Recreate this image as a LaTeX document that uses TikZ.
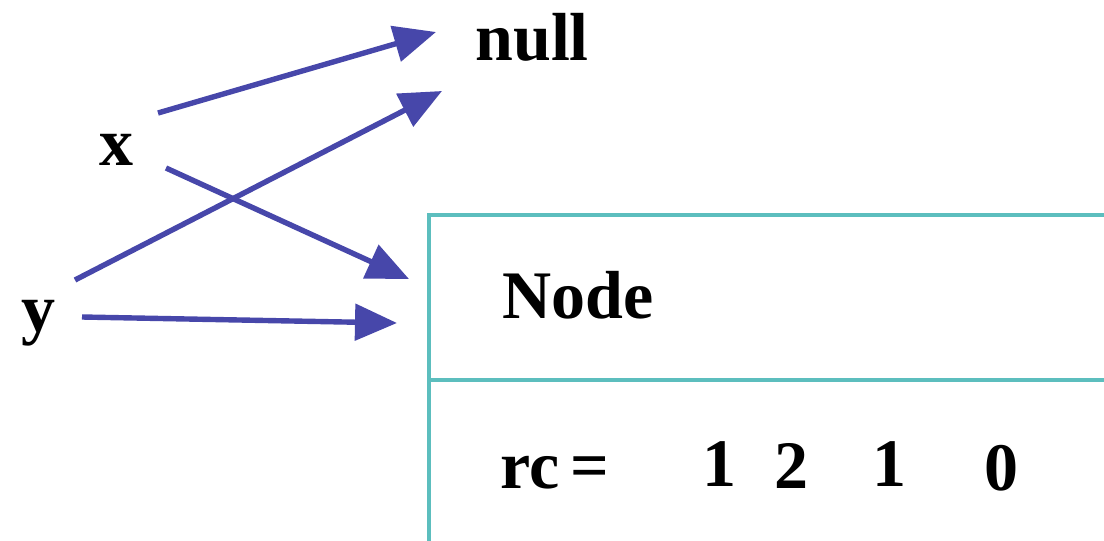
\documentclass[tikz,border=0pt]{standalone}
\usepackage{fontspec}
\setmainfont{Liberation Serif}
\usetikzlibrary{arrows.meta, positioning}
\definecolor{ptrblue}{HTML}{4747AA}
\definecolor{boxteal}{HTML}{5CBEBE}
\tikzset{ptr/.style={-{Triangle[length=21pt, width=18pt]}, draw=ptrblue, fill=ptrblue, line width=2.7pt},
         lbl/.style={anchor=base west, inner sep=0pt, font=\fontsize{34}{40}\selectfont\bfseries}}

\begin{document}
\begin{tikzpicture}[x=0.5pt, y=-0.5pt]
    \useasboundingbox (0,0) rectangle (1104,541);
    % object box, runs off the page
    \draw[boxteal, line width=1.8pt] (1120,215) -| (429,560);
    \draw[boxteal, line width=1.8pt] (429,380) -- (1120,380);

    \node[lbl] (null) at (475,60) {null};
    \node[lbl] (x) at (99,165) {x};
    \node[lbl] (y) at (21,331) {y};
    \node[lbl] (node) at (502,318) {Node};
    \node[lbl] (rc) at (500,488) {rc\,=};
    \node[lbl] (rc1) at (702,486) {1};
    \node[lbl] (rc2) at (774,488) {2};
    \node[lbl] (rc3) at (872,486) {1};
    \node[lbl] (rc4) at (984,490) {0};

    % pointer ends
    \coordinate (xs1) at (158,113);
    \coordinate (xs2) at (166,168);
    \coordinate (ys1) at (75,280);
    \coordinate (ys2) at (82,317);
    \coordinate (nullin1) at (436,32);
    \coordinate (nullin2) at (442,91);
    \coordinate (boxin1) at (409,279);
    \coordinate (boxin2) at (397,323);

    \draw[ptr] (xs1) -- (nullin1);
    \draw[ptr] (xs2) -- (boxin1);
    \draw[ptr] (ys1) -- (nullin2);
    \draw[ptr] (ys2) -- (boxin2);
\end{tikzpicture}
\end{document}
